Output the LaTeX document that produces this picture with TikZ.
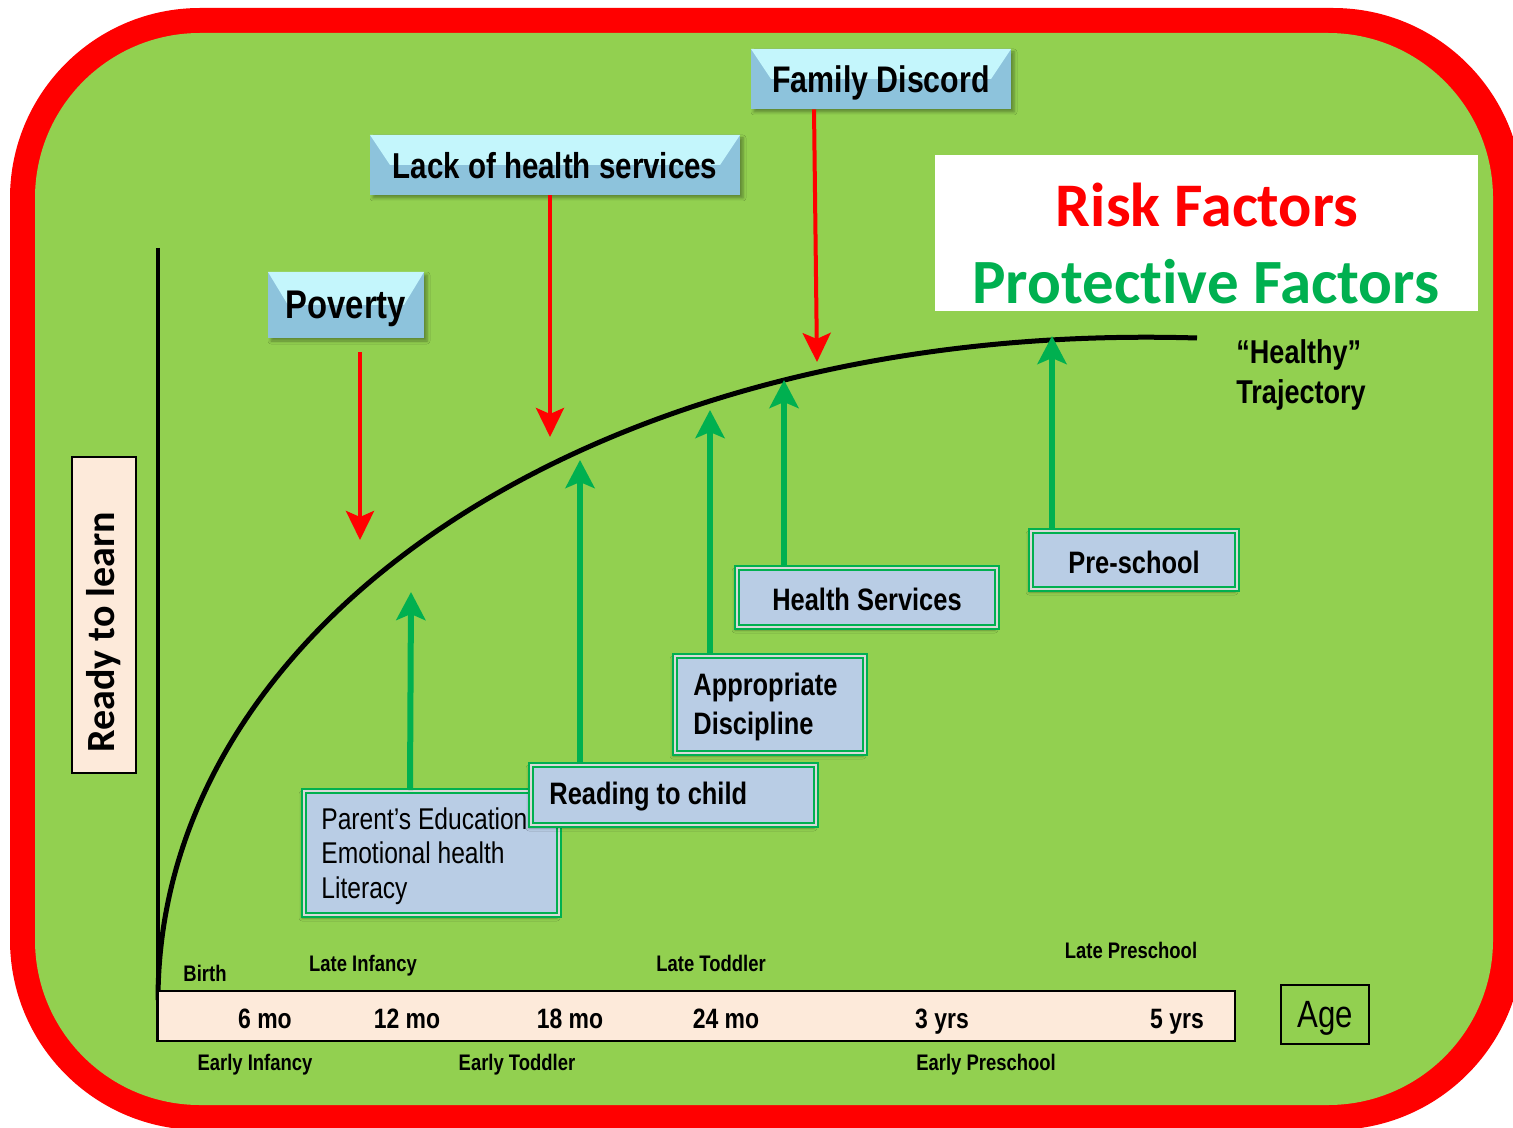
\documentclass[tikz,border=0pt]{standalone}
\usepackage{fontspec}
\setmainfont{Liberation Sans}
\newfontfamily\narr[FakeStretch=0.82]{Liberation Sans}
\newfontfamily\calib[Ligatures=NoCommon]{Carlito}
\usetikzlibrary{arrows.meta,shadows.blur}
\definecolor{bggreen}{HTML}{92D050}
\definecolor{pgreen}{HTML}{00B050}
\definecolor{peach}{HTML}{FDEADA}
\definecolor{pblue}{HTML}{B9CDE5}
\definecolor{bevlight}{HTML}{C4F6FC}
\definecolor{bevdark}{HTML}{8DC3DC}
\tikzset{
  bevelbox/.style={inner sep=0pt, fill=bevdark, text depth=0pt,
    blur shadow={shadow xshift=1.5pt, shadow yshift=-1.5pt, shadow opacity=35, shadow blur radius=1.5pt},
    path picture={
      \fill[bevlight] (path picture bounding box.north west) -- (path picture bounding box.north east)
        -- ([xshift=-10pt]path picture bounding box.east) -- ([xshift=10pt]path picture bounding box.west) -- cycle;
    },
    font=\narr\bfseries\fontsize{18}{21}\selectfont},
  protbox/.style={inner sep=0pt, fill=pblue, draw=pgreen, line width=1pt,
    double=white!70!gray, double distance=0.6pt,
    blur shadow={shadow xshift=-1pt, shadow yshift=-1.5pt, shadow opacity=30, shadow blur radius=1.5pt}},
  prottext/.style={font=\narr\bfseries\fontsize{15.5}{19.5}\selectfont, inner sep=0pt},
  riskarr/.style={draw=red, line width=2pt, -{Stealth[length=14.5pt, width=14pt, inset=3pt]}},
  protarr/.style={draw=pgreen, line width=3pt, -{Stealth[length=14pt, width=14.5pt, inset=3pt]}},
  axlab/.style={font=\narr\bfseries\fontsize{14}{16}\selectfont, inner sep=0pt, anchor=base},
  stagelab/.style={font=\narr\bfseries\fontsize{11.25}{13}\selectfont, inner sep=0pt, anchor=base},
}
\begin{document}
\begin{tikzpicture}[x=0.5pt,y=-0.5pt]
\useasboundingbox (0,0) rectangle (1513,1128);
\clip (0,0) rectangle (1513,1128);
% frame
\fill[red, rounded corners=95pt] (10,8) rectangle (1523,1130);
\fill[bggreen, rounded corners=82.5pt] (35,33) rectangle (1493,1105);

% legend box
\node[fill=white, minimum width=271.5pt, minimum height=78pt, inner sep=0pt] (legend) at (1206.5,233) {};
\node[text=red, font=\calib\bfseries\fontsize{31}{36}\selectfont, inner sep=0pt] (risk) at (1207,205) {Risk Factors};
\node[text=pgreen, font=\calib\bfseries\fontsize{31.5}{36}\selectfont, inner sep=0pt] (prot) at (1206,282) {Protective Factors};

% vertical axis
\draw[line width=2pt] (158,248) -- (158,1042);

% healthy trajectory curve
\draw[line width=2.5pt] (158,1000) .. controls (158,620) and (600,320) .. (1197,338);

\node[anchor=west, align=left, font=\narr\bfseries\fontsize{16.5}{20}\selectfont, inner sep=0pt] (healthy) at (1236,375) {“Healthy”\\Trajectory};

% age bar
\node[draw, line width=1.25pt, fill=peach, minimum width=538.5pt, minimum height=25pt, inner sep=0pt] (agebar) at (696.5,1016) {};
\node[axlab] (m6) at (265,1028) {6 mo};
\node[axlab] (m12) at (407,1028) {12 mo};
\node[axlab] (m18) at (570,1028) {18 mo};
\node[axlab] (m24) at (726,1028) {24 mo};
\node[axlab] (y3) at (942,1028) {3 yrs};
\node[axlab] (y5) at (1177,1028) {5 yrs};

\node[stagelab] (birth) at (205,981) {Birth};
\node[stagelab] (linf) at (363,971) {Late Infancy};
\node[stagelab] (ltod) at (711,971) {Late Toddler};
\node[stagelab] (lpre) at (1131,958) {Late Preschool};
\node[stagelab] (einf) at (255,1070) {Early Infancy};
\node[stagelab] (etod) at (517,1070) {Early Toddler};
\node[stagelab] (epre) at (986,1070) {Early Preschool};

\node[draw, line width=1pt, minimum width=44pt, minimum height=29.5pt, inner sep=0pt, text depth=0pt,
      font=\narr\fontsize{19}{21}\selectfont] (age) at (1325,1014.5) {Age};

% ready to learn
\node[draw, line width=1pt, fill=peach, minimum width=32pt, minimum height=158pt, inner sep=0pt] (readybox) at (104,615) {};
\node[rotate=90, font=\calib\bfseries\fontsize{20}{24}\selectfont, inner sep=0pt] (ready) at (104,632) {Ready to learn};

% risk factor boxes
\node[bevelbox, minimum width=78pt, minimum height=33pt, font=\narr\bfseries\fontsize{20}{24}\selectfont] (pov) at (346,305) {Poverty};
\node[bevelbox, minimum width=185pt, minimum height=30pt] (lack) at (555,165) {Lack of health services};
\node[bevelbox, minimum width=130pt, minimum height=30pt, font=\narr\bfseries\fontsize{18.5}{21}\selectfont] (fam) at (881,79) {Family Discord};

\coordinate (povtip) at (360,540);
\coordinate (lacktip) at (550,437);
\coordinate (famtip) at (817,362);
\draw[riskarr] ([xshift=7pt,yshift=-7pt]pov.south) -- (povtip);
\draw[riskarr] ([xshift=-2.5pt]lack.south) -- (lacktip);
\draw[riskarr] ([xshift=-33.5pt]fam.south) -- (famtip);

% protective factor boxes
\coordinate (partip) at (411,592);
\coordinate (readtip) at (580,460);
\coordinate (disctip) at (710,410);
\coordinate (healtip) at (784,380);
\coordinate (pretip) at (1052,336);

\node[protbox, minimum width=127.5pt, minimum height=62pt] (parbox) at (431.5,853) {};
\node[anchor=west, align=left, font=\narr\fontsize{15}{17.25}\selectfont, inner sep=0pt] (partext) at (321,856) {Parent’s Education\\Emotional health\\Literacy};
\node[protbox, minimum width=142.5pt, minimum height=30pt] (readbox) at (673.5,795) {};
\node[prottext, anchor=west] (readtext) at (549,797) {Reading to child};
\node[protbox, minimum width=95pt, minimum height=48.5pt] (discbox) at (770,704.5) {};
\node[prottext, anchor=west, align=left] (disctext) at (693,707) {Appropriate\\Discipline};
\node[protbox, minimum width=130pt, minimum height=29.5pt] (healbox) at (867,597.5) {};
\node[prottext] (healtext) at (867,599) {Health Services};
\node[protbox, minimum width=103pt, minimum height=29pt] (prebox) at (1134,560) {};
\node[prottext] (pretext) at (1134,562) {Pre-school};

\draw[protarr] ([xshift=-10.75pt]parbox.north) -- (partip);
\draw[protarr] ([xshift=-46.75pt]readbox.north) -- (readtip);
\draw[protarr] ([xshift=-30pt]discbox.north) -- (disctip);
\draw[protarr] ([xshift=-41.5pt]healbox.north) -- (healtip);
\draw[protarr] ([xshift=-41pt]prebox.north) -- (pretip);
\end{tikzpicture}
\end{document}
